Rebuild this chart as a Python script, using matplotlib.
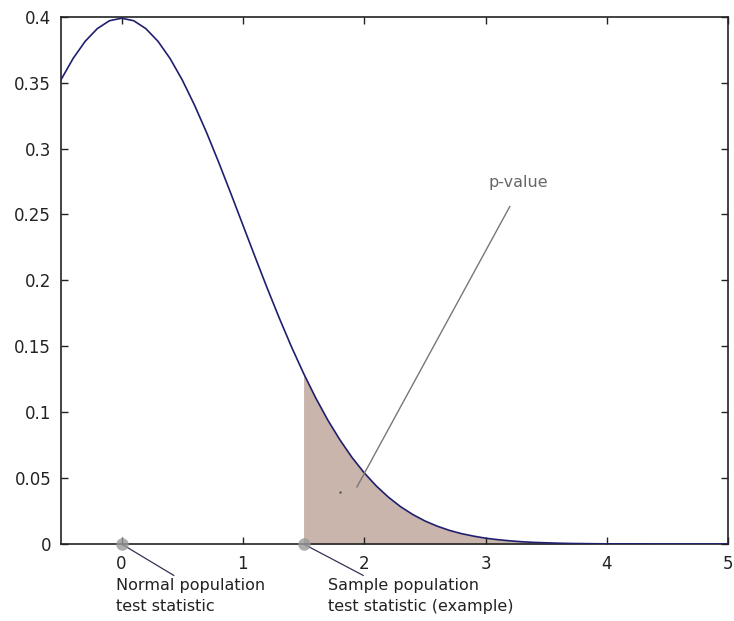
import matplotlib.pyplot as plt
import numpy as np

plt.rcParams['font.family'] = ['DejaVu Sans']

# density values
x_vals = [-0.5, -0.4, -0.3, -0.2, -0.1, 0.0, 0.1, 0.2, 0.3, 0.4,
          0.5, 0.6, 0.7, 0.8, 0.9, 1.0, 1.1, 1.2, 1.3, 1.4,
          1.5, 1.6, 1.7, 1.8, 1.9, 2.0, 2.1, 2.2, 2.3, 2.4,
          2.5, 2.6, 2.7, 2.8, 2.9, 3.0, 3.1, 3.2, 3.3, 3.4,
          3.5, 3.6, 3.7, 3.8, 3.9, 4.0, 4.2, 4.4, 4.6, 4.8, 5.0]
y_vals = [0.3521, 0.3683, 0.3814, 0.3910, 0.3970, 0.3989, 0.3970, 0.3910, 0.3814, 0.3683,
          0.3521, 0.3332, 0.3123, 0.2897, 0.2661, 0.2420, 0.2179, 0.1942, 0.1714, 0.1497,
          0.1295, 0.1109, 0.0940, 0.0790, 0.0656, 0.0540, 0.0440, 0.0355, 0.0283, 0.0224,
          0.0175, 0.0136, 0.0104, 0.0079, 0.0060, 0.0044, 0.0033, 0.0024, 0.0017, 0.0012,
          0.0009, 0.0006, 0.0004, 0.0003, 0.0002, 0.0001, 0.0001, 0.0000, 0.0000, 0.0000, 0.0000]

normal_stat = 0.0
sample_stat = 1.5

xticks = [0, 1, 2, 3, 4, 5]
yticks = [0, 0.05, 0.1, 0.15, 0.2, 0.25, 0.3, 0.35, 0.4]
ytick_labels = ['0', '0.05', '0.1', '0.15', '0.2', '0.25', '0.3', '0.35', '0.4']

x = np.array(x_vals)
y = np.array(y_vals)

fig = plt.figure(figsize=(7.34, 6.21), dpi=100)
ax = fig.add_axes([0.083, 0.124, 0.909, 0.849])

# shaded tail
tail = x >= sample_stat
ax.fill_between(x[tail], 0, y[tail], color='#c9b5ab', lw=0, zorder=1)
ax.plot(x, y, color='#1f1f6e', lw=1.2, zorder=3)

# test statistic markers
ax.plot([normal_stat, sample_stat], [0, 0], 'o', ms=9, color='#999999',
        alpha=0.8, mec='none', clip_on=False, zorder=5)

ax.annotate('Normal population\ntest statistic', xy=(normal_stat, 0),
            xytext=(-0.047, -0.026), fontsize=11.5, ha='left', va='top',
            linespacing=1.45, color='#222222', annotation_clip=False,
            arrowprops=dict(arrowstyle='-', color='#333355', lw=0.9,
                            relpos=(0.42, 1.0), shrinkA=0, shrinkB=0))
ax.annotate('Sample population\ntest statistic (example)', xy=(sample_stat, 0),
            xytext=(1.70, -0.026), fontsize=11.5, ha='left', va='top',
            linespacing=1.45, color='#222222', annotation_clip=False,
            arrowprops=dict(arrowstyle='-', color='#333355', lw=0.9,
                            relpos=(0.22, 1.0), shrinkA=0, shrinkB=0))

# p-value label
ax.plot([1.94, 3.20], [0.0433, 0.256], color='#777777', lw=1.0, zorder=4)
ax.plot([1.80], [0.0395], '.', ms=1.5, color='#555555', zorder=4)
ax.text(3.27, 0.274, 'p-value', fontsize=11.5, color='#666666', ha='center', va='center')

ax.set_xlim(-0.5, 5)
ax.set_ylim(0, 0.4)
ax.set_xticks(xticks)
ax.set_yticks(yticks)
ax.set_yticklabels(ytick_labels)
ax.tick_params(direction='in', top=True, right=True, labelsize=12, length=5,
               width=1, colors='#222222')
ax.tick_params(axis='x', pad=8)
ax.tick_params(axis='y', pad=7)
for s in ax.spines.values():
    s.set_linewidth(1.2)
    s.set_color('#222222')

fig.savefig('out.png', dpi=100)
